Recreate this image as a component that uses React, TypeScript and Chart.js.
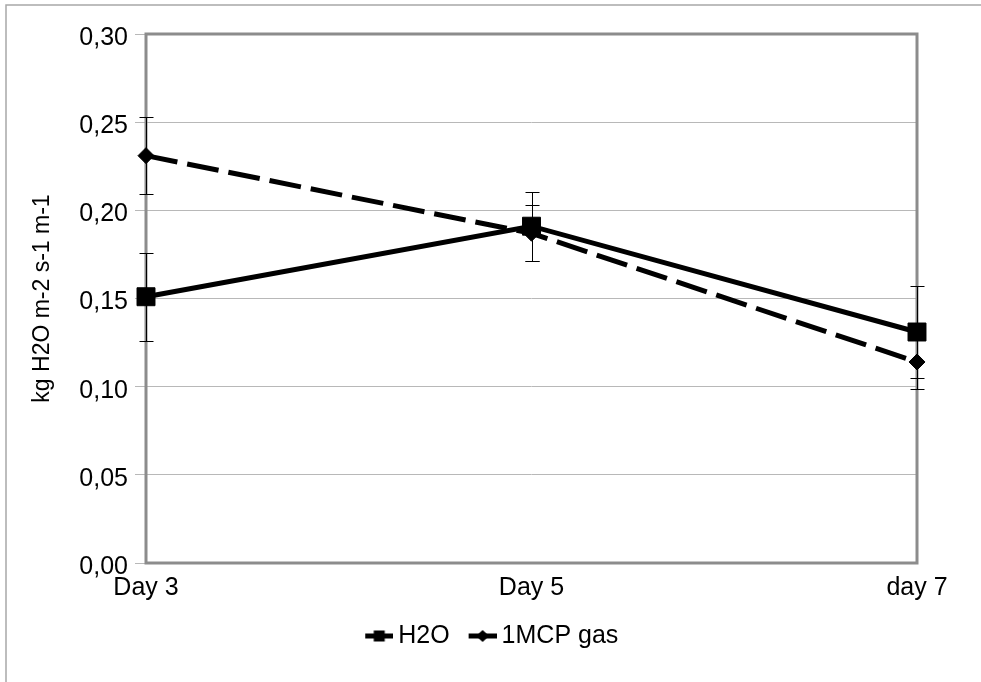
import React, { useEffect, useRef } from 'react';
import { Chart, registerables } from 'chart.js';

Chart.register(...registerables);

// ---- data ----
const categories = ['Day 3', 'Day 5', 'day 7'];
const seriesNames = ['H2O', '1MCP gas'];
const h2oValues = [0.151, 0.191, 0.131];
const h2oErrors = [0.025, 0.0195, 0.026];
const mcpValues = [0.231, 0.187, 0.114];
const mcpErrors = [0.022, 0.016, 0.0155];
const yTickLabels = ['0,00', '0,05', '0,10', '0,15', '0,20', '0,25', '0,30'];
const yTitle = 'kg H2O m-2 s-1 m-1';

const FONT = "'Liberation Sans', Arial, sans-serif";
const PAD_L = 67;

function makeIcon(kind: 'square' | 'diamond') {
  // 35px wide canvas, drawing occupies the right 28px
  const c = document.createElement('canvas');
  c.width = 35;
  c.height = 14;
  const g = c.getContext('2d')!;
  g.fillStyle = '#000';
  const o = 7;
  g.fillRect(o, 4.5, 28, 5);
  if (kind === 'square') {
    g.fillRect(o + 8.5, 1.5, 11, 11);
  } else {
    g.beginPath();
    g.moveTo(o + 14, 1);
    g.lineTo(o + 20.5, 7);
    g.lineTo(o + 14, 13);
    g.lineTo(o + 7.5, 7);
    g.closePath();
    g.fill();
  }
  return c;
}

const decorPlugin = {
  id: 'decor',
  beforeDraw(chart: any) {
    const ctx = chart.ctx;
    ctx.save();
    ctx.strokeStyle = '#a8a8a8';
    ctx.lineWidth = 1.5;
    ctx.beginPath();
    ctx.moveTo(6, chart.height);
    ctx.lineTo(6, 5);
    ctx.lineTo(chart.width, 5);
    ctx.stroke();
    ctx.restore();
  },
  beforeDatasetsDraw(chart: any) {
    const ctx = chart.ctx;
    const a = chart.chartArea;
    ctx.save();
    ctx.strokeStyle = '#8c8c8c';
    ctx.lineWidth = 3;
    ctx.strokeRect(a.left, a.top, a.right - a.left, a.bottom - a.top);
    // error bars
    const xs = chart.scales.x;
    const ys = chart.scales.y;
    const sets = [
      [h2oValues, h2oErrors],
      [mcpValues, mcpErrors],
    ];
    ctx.strokeStyle = '#000';
    ctx.lineWidth = 1;
    sets.forEach(([vals, errs]) => {
      vals.forEach((v, i) => {
        const x = Math.round(xs.getPixelForValue(i)) + 0.5;
        const yt = Math.round(ys.getPixelForValue(v + errs[i])) + 0.5;
        const yb = Math.round(ys.getPixelForValue(v - errs[i])) + 0.5;
        ctx.beginPath();
        ctx.moveTo(x, yt);
        ctx.lineTo(x, yb);
        ctx.moveTo(x - 7, yt);
        ctx.lineTo(x + 7, yt);
        ctx.moveTo(x - 7, yb);
        ctx.lineTo(x + 7, yb);
        ctx.stroke();
      });
    });
    ctx.restore();
  },
};

export default function App() {
  const ref = useRef<HTMLCanvasElement | null>(null);

  useEffect(() => {
    if (!ref.current) return;
    const icons = [makeIcon('square'), makeIcon('diamond')];
    const chart = new Chart(ref.current, {
      type: 'line',
      data: {
        labels: categories,
        datasets: [
          {
            label: seriesNames[0],
            data: h2oValues,
            borderColor: '#000',
            backgroundColor: '#000',
            borderWidth: 5,
            pointStyle: 'rect',
            pointRadius: 12.7,
            pointBorderWidth: 1,
            pointBackgroundColor: '#000',
            pointBorderColor: '#000',
            tension: 0,
            clip: false,
          } as any,
          {
            label: seriesNames[1],
            data: mcpValues,
            borderColor: '#000',
            backgroundColor: '#000',
            borderWidth: 5,
            borderDash: [32, 10],
            pointStyle: 'rectRot',
            pointRadius: 8,
            pointBorderWidth: 1,
            pointBackgroundColor: '#000',
            pointBorderColor: '#000',
            tension: 0,
            clip: false,
          } as any,
        ],
      },
      options: {
        animation: false,
        responsive: false,
        devicePixelRatio: 1,
        events: [],
        layout: { padding: { left: PAD_L, right: 64, top: 34, bottom: 23.5 } },
        plugins: {
          tooltip: { enabled: false },
          legend: {
            position: 'bottom',
            labels: {
              usePointStyle: true,
              pointStyleWidth: 20,
              boxHeight: 14,
              padding: 19.5,
              color: '#000',
              font: { family: FONT, size: 25 },
              generateLabels: () =>
                seriesNames.map((name, i) => ({
                  text: name,
                  fillStyle: '#000',
                  strokeStyle: '#000',
                  lineWidth: 0,
                  pointStyle: icons[i],
                  hidden: false,
                  datasetIndex: i,
                  fontColor: '#000',
                })) as any,
            },
          },
        },
        scales: {
          x: {
            type: 'category',
            offset: false,
            grid: { display: false, drawTicks: false },
            border: { display: false },
            ticks: {
              color: '#000',
              font: { family: FONT, size: 25 },
              padding: 10,
              maxRotation: 0,
              autoSkip: false,
            },
            afterFit: (s: any) => {
              s.height = 41;
            },
          },
          y: {
            min: 0,
            max: 0.3,
            grid: { color: '#b8b8b8', tickLength: 11, drawTicks: true, lineWidth: 1 },
            border: { display: false },
            ticks: {
              stepSize: 0.05,
              color: '#000',
              padding: 7,
              labelOffset: 4,
              font: { family: FONT, size: 25 },
              callback: (v: any) => yTickLabels[Math.round(Number(v) / 0.05)] ?? '',
            },
            title: {
              display: true,
              text: yTitle,
              color: '#000',
              font: { family: FONT, size: 23 },
              padding: { top: 43 - PAD_L - 13.8, bottom: 0 },
            },
            afterFit: (s: any) => {
              s.width = 146 - PAD_L;
            },
          },
        },
      } as any,
      plugins: [decorPlugin],
    });
    return () => chart.destroy();
  }, []);

  return (
    <div style={{ position: 'absolute', left: 0, top: 0, width: 981, height: 682, background: '#fff' }}>
      <canvas ref={ref} width={981} height={682} style={{ display: 'block' }} />
    </div>
  );
}
